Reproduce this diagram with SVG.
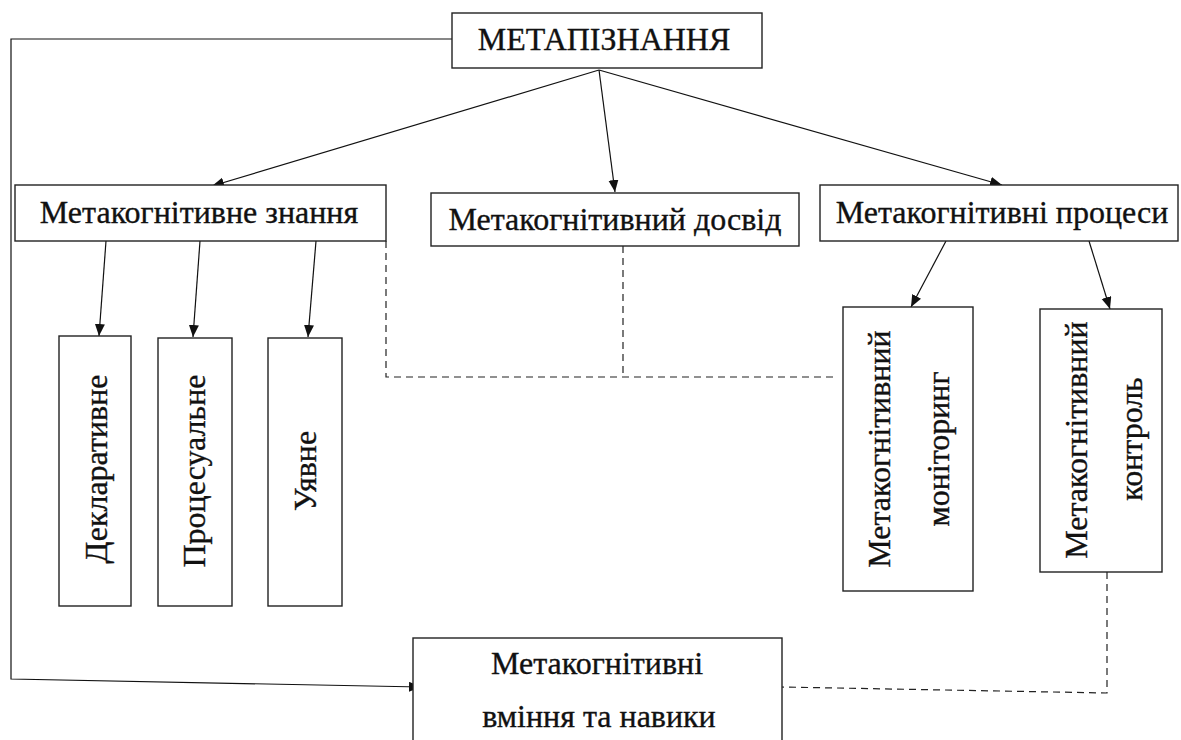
<svg xmlns="http://www.w3.org/2000/svg" width="1181" height="740" viewBox="0 0 1181 740" font-family="'Liberation Serif', 'Times New Roman', serif">
<defs>
<style>
.box{fill:#fff;stroke:#222;stroke-width:1.4}
.t{font-family:'Liberation Serif','Times New Roman',serif;font-size:32px;fill:#111;stroke:#111;stroke-width:0.35;text-anchor:middle}
.ln{fill:none;stroke:#111;stroke-width:1.2}
.dash{fill:none;stroke:#222;stroke-width:1.2;stroke-dasharray:7,5}
</style>
<marker id="ah" markerUnits="userSpaceOnUse" markerWidth="13" markerHeight="11" refX="12" refY="5" orient="auto">
<path d="M0,0 L12,5 L0,10 z" fill="#111"/>
</marker>
</defs>
<rect width="1181" height="740" fill="#fff"/>
<g id="connectors">
<path class="ln" d="M452,39 L11,39 L11,679 L421,687" marker-end="url(#ah)"/>
<line class="ln" x1="599" y1="70" x2="212" y2="186" marker-end="url(#ah)"/>
<line class="ln" x1="599" y1="70" x2="615" y2="192" marker-end="url(#ah)"/>
<line class="ln" x1="599" y1="70" x2="1002" y2="185" marker-end="url(#ah)"/>
<line class="ln" x1="106" y1="241" x2="99" y2="336" marker-end="url(#ah)"/>
<line class="ln" x1="200" y1="241" x2="193" y2="337" marker-end="url(#ah)"/>
<line class="ln" x1="316" y1="241" x2="308" y2="337" marker-end="url(#ah)"/>
<line class="ln" x1="946" y1="241" x2="911" y2="307" marker-end="url(#ah)"/>
<line class="ln" x1="1089" y1="241" x2="1110" y2="309" marker-end="url(#ah)"/>
<path class="dash" d="M386,241 L386,377 L838,377"/>
<path class="dash" d="M623,246 L623,377"/>
<path class="dash" d="M1107,572 L1107,693 L782,687"/>
</g>
<g id="n-metapiznannia">
<rect class="box" x="452" y="13" width="310" height="55"/>
<text class="t" x="604" y="50">МЕТАПІЗНАННЯ</text>
</g>
<g id="n-znannia">
<rect class="box" x="15" y="185" width="371" height="56"/>
<text class="t" x="199" y="223">Метакогнітивне знання</text>
</g>
<g id="n-dosvid">
<rect class="box" x="431" y="193" width="368" height="53"/>
<text class="t" x="615" y="230">Метакогнітивний досвід</text>
</g>
<g id="n-protsesy">
<rect class="box" x="820" y="185" width="358" height="56"/>
<text class="t" x="1002" y="223">Метакогнітивні процеси</text>
</g>
<g id="n-deklaratyvne">
<rect class="box" x="59" y="336" width="72" height="270"/>
<text class="t" transform="translate(107,469) rotate(-90)">Декларативне</text>
</g>
<g id="n-protsesualne">
<rect class="box" x="158" y="338" width="74" height="268"/>
<text class="t" transform="translate(205,471) rotate(-90)">Процесуальне</text>
</g>
<g id="n-uiavne">
<rect class="box" x="268" y="338" width="74" height="268"/>
<text class="t" transform="translate(316,471) rotate(-90)">Уявне</text>
</g>
<g id="n-monitoring">
<rect class="box" x="843" y="307" width="130" height="284"/>
<text class="t" transform="translate(890,449) rotate(-90)">Метакогнітивний</text>
<text class="t" transform="translate(949,449) rotate(-90)">моніторинг</text>
</g>
<g id="n-kontrol">
<rect class="box" x="1040" y="309" width="122" height="263"/>
<text class="t" transform="translate(1087,440) rotate(-90)">Метакогнітивний</text>
<text class="t" transform="translate(1142,439) rotate(-90)">контроль</text>
</g>
<g id="n-vminnia">
<rect class="box" x="413" y="638" width="369" height="110"/>
<text class="t" x="597" y="674">Метакогнітивні</text>
<text class="t" x="599" y="727">вміння та навики</text>
</g>
</svg>
